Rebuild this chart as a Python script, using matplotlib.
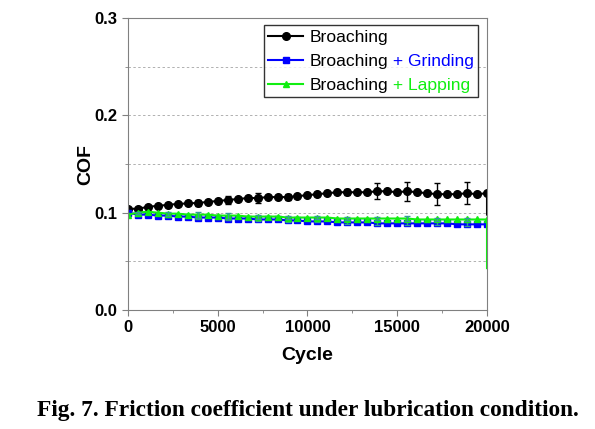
import numpy as np
import matplotlib
matplotlib.use("Agg")
from matplotlib import pyplot as plt
from matplotlib.ticker import MultipleLocator, FormatStrFormatter

plt.rcParams['font.family'] = ['Liberation Sans', 'DejaVu Sans']

cycles = [0, 556, 1111, 1667, 2222, 2778, 3333, 3889, 4444, 5000, 5556, 6111,
          6667, 7222, 7778, 8333, 8889, 9444, 10000, 10556, 11111, 11667, 12222,
          12778, 13333, 13889, 14444, 15000, 15556, 16111, 16667, 17222, 17778,
          18333, 18889, 19444, 20000]

cof_broach = [0.104, 0.104, 0.106, 0.107, 0.108, 0.109, 0.1095, 0.110, 0.111,
              0.112, 0.113, 0.114, 0.115, 0.115, 0.116, 0.116, 0.116, 0.117,
              0.118, 0.119, 0.120, 0.121, 0.121, 0.121, 0.121, 0.122, 0.122,
              0.121, 0.122, 0.121, 0.120, 0.119, 0.119, 0.119, 0.120, 0.119, 0.120]
cof_grind = [0.100, 0.098, 0.098, 0.097, 0.097, 0.096, 0.096, 0.095, 0.095,
             0.095, 0.094, 0.094, 0.094, 0.093, 0.093, 0.093, 0.092, 0.092,
             0.091, 0.091, 0.091, 0.090, 0.090, 0.090, 0.090, 0.089, 0.089,
             0.089, 0.089, 0.089, 0.089, 0.089, 0.089, 0.088, 0.088, 0.088, 0.088]
cof_lap = [0.098, 0.100, 0.101, 0.100, 0.099, 0.099, 0.098, 0.098, 0.098,
           0.097, 0.097, 0.097, 0.096, 0.096, 0.096, 0.096, 0.095, 0.095,
           0.095, 0.095, 0.095, 0.094, 0.094, 0.094, 0.094, 0.094, 0.094,
           0.094, 0.094, 0.093, 0.093, 0.093, 0.093, 0.093, 0.093, 0.093, 0.093]

# value the curves fall to at the very last cycle
end_broach = 0.098
end_grind = 0.088
end_lap = 0.043

# error bars every third point starting at index 1
err_idx = [1, 4, 7, 10, 13, 16, 19, 22, 25, 28, 31, 34]
err_broach = [0.002, 0.002, 0.003, 0.0045, 0.005, 0.003, 0.002, 0.003, 0.008, 0.010, 0.011, 0.011]
err_grind = [0.001, 0.001, 0.002, 0.002, 0.002, 0.002, 0.001, 0.002, 0.002, 0.002, 0.002, 0.002]
err_lap = [0.001, 0.002, 0.003, 0.003, 0.002, 0.002, 0.002, 0.002, 0.002, 0.003, 0.002, 0.002]

labels = ["Broaching", "Broaching + Grinding", "Broaching + Lapping"]

fig = plt.figure(figsize=(5.95, 4.29), dpi=100)
ax = fig.add_axes([0.215, 0.2774, 0.6035, 0.6806])

series = [
    (cof_broach, end_broach, err_broach, 'black', 'o', 5.5),
    (cof_grind, end_grind, err_grind, '#0000ff', 's', 4),
    (cof_lap, end_lap, err_lap, '#11ee11', '^', 5),
]
handles = []
for (vals, end, errs, col, mk, ms), lab in zip(series, labels):
    xs = cycles + [cycles[-1]]
    ys = vals + [end]
    h, = ax.plot(xs, ys, color=col, lw=1.5, marker=mk, ms=ms,
                 markevery=list(range(len(vals))), label=lab)
    handles.append(h)
    ex = [cycles[i] for i in err_idx]
    ey = [vals[i] for i in err_idx]
    ecol = 'black' if col == 'black' else '#339999'
    ax.errorbar(ex, ey, yerr=errs, fmt='none', ecolor=ecol, elinewidth=1, capsize=2.5, capthick=1)

ax.set_xlim(0, 20000)
ax.set_ylim(0, 0.3)
ax.xaxis.set_major_locator(MultipleLocator(5000))
ax.xaxis.set_minor_locator(MultipleLocator(2500))
ax.yaxis.set_major_locator(MultipleLocator(0.1))
ax.yaxis.set_minor_locator(MultipleLocator(0.05))
ax.yaxis.set_major_formatter(FormatStrFormatter('%.1f'))
ax.grid(True, which='both', axis='y', ls=(0, (2.5, 2.5)), color='#b0b0b0', lw=0.7)
ax.set_axisbelow(True)
for sp in ax.spines.values():
    sp.set_color('#808080')
ax.tick_params(which='both', direction='out', color='#808080', labelsize=12)
ax.tick_params(which='major', length=4)
ax.tick_params(which='minor', length=2.5)
for t in ax.get_xticklabels() + ax.get_yticklabels():
    t.set_fontweight('bold')
ax.set_xlabel('Cycle', fontsize=14, fontweight='bold', labelpad=8)
ax.set_ylabel('COF', fontsize=14, fontweight='bold', labelpad=0)

fs_leg = 12.6
leg = ax.legend(handles=handles, loc='upper right', bbox_to_anchor=(0.975, 0.975),
                fontsize=fs_leg, frameon=True, fancybox=False, edgecolor='black',
                handlelength=2.0, handletextpad=0.35, borderpad=0.25, labelspacing=0.5,
                borderaxespad=0)
leg.get_frame().set_linewidth(1.0)

# two-coloured legend labels: measure the real text, hide it, redraw as pieces
fig.canvas.draw()
renderer = fig.canvas.get_renderer()
W, H = fig.bbox.width, fig.bbox.height
extras = [("", 'black'), (" + Grinding", '#0000ff'), (" + Lapping", '#11ee11')]
for txt, (extra, col) in zip(leg.get_texts(), extras):
    bb = txt.get_window_extent(renderer)
    txt.set_visible(False)
    a = fig.text(bb.x0 / W, bb.y0 / H, "Broaching", ha='left', va='bottom',
                 fontsize=fs_leg, color='black', zorder=10)
    if extra:
        ab = a.get_window_extent(renderer)
        fig.text(ab.x1 / W, bb.y0 / H, extra, ha='left', va='bottom',
                 fontsize=fs_leg, color=col, zorder=10)

fig.text(0.517, 0.044, "Fig. 7. Friction coefficient under lubrication condition.",
         ha='center', va='center', fontsize=16.8, fontweight='bold',
         family=['Liberation Serif', 'DejaVu Serif'])

fig.savefig('out.png', dpi=100)
